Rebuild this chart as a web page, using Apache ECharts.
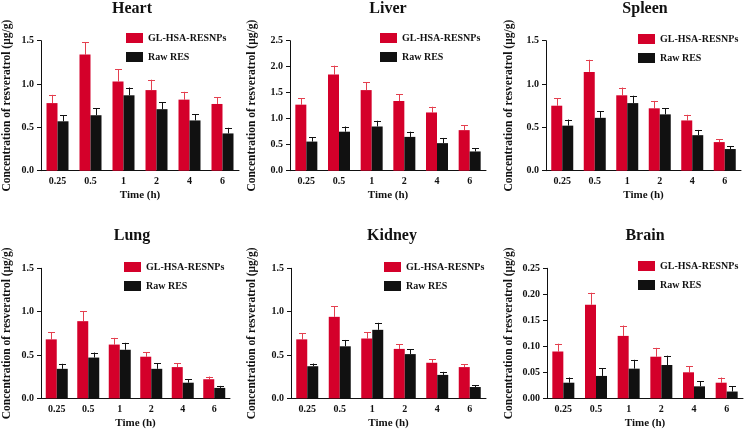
<!DOCTYPE html>
<html>
<head>
<meta charset="utf-8">
<script src="https://cdn.jsdelivr.net/npm/echarts@6/dist/echarts.min.js"></script>
<style>
html,body{margin:0;padding:0;background:#fff;}
#chart{width:745px;height:431px;}
</style>
</head>
<body>
<div id="chart"></div>
<script>
// ---- data ----
const categories = ['0.25', '0.5', '1', '2', '4', '6'];
const seriesNames = ['GL-HSA-RESNPs', 'Raw RES'];
const organs = ['Heart', 'Liver', 'Spleen', 'Lung', 'Kidney', 'Brain'];

const heartNP = [0.78, 1.34, 1.03, 0.93, 0.82, 0.77];
const heartNPErr = [0.095, 0.145, 0.14, 0.12, 0.09, 0.08];
const heartRaw = [0.57, 0.64, 0.87, 0.71, 0.58, 0.43];
const heartRawErr = [0.07, 0.08, 0.09, 0.08, 0.07, 0.065];

const liverNP = [1.27, 1.85, 1.55, 1.34, 1.12, 0.78];
const liverNPErr = [0.12, 0.17, 0.15, 0.13, 0.11, 0.09];
const liverRaw = [0.56, 0.75, 0.85, 0.65, 0.53, 0.37];
const liverRawErr = [0.08, 0.1, 0.11, 0.1, 0.1, 0.06];

const spleenNP = [0.75, 1.14, 0.87, 0.72, 0.58, 0.33];
const spleenNPErr = [0.085, 0.14, 0.09, 0.085, 0.065, 0.035];
const spleenRaw = [0.52, 0.61, 0.78, 0.65, 0.41, 0.25];
const spleenRawErr = [0.07, 0.077, 0.085, 0.07, 0.06, 0.035];

const lungNP = [0.68, 0.89, 0.62, 0.48, 0.36, 0.22];
const lungNPErr = [0.085, 0.115, 0.077, 0.054, 0.042, 0.031];
const lungRaw = [0.34, 0.47, 0.56, 0.34, 0.18, 0.12];
const lungRawErr = [0.058, 0.058, 0.08, 0.062, 0.042, 0.023];

const kidneyNP = [0.68, 0.94, 0.69, 0.57, 0.41, 0.36];
const kidneyNPErr = [0.073, 0.123, 0.073, 0.054, 0.04, 0.035];
const kidneyRaw = [0.37, 0.60, 0.79, 0.51, 0.27, 0.13];
const kidneyRawErr = [0.031, 0.073, 0.081, 0.054, 0.035, 0.023];

const brainNP = [0.09, 0.18, 0.12, 0.08, 0.05, 0.03];
const brainNPErr = [0.015, 0.023, 0.02, 0.017, 0.012, 0.01];
const brainRaw = [0.03, 0.043, 0.057, 0.064, 0.023, 0.013];
const brainRawErr = [0.01, 0.015, 0.017, 0.018, 0.01, 0.01];

const yMax = [1.5, 2.5, 1.5, 1.5, 1.5, 0.25];
const yStep = [0.5, 0.5, 0.5, 0.5, 0.5, 0.05];
const yDecimals = [1, 1, 1, 1, 1, 2];

const dataNP = [heartNP, liverNP, spleenNP, lungNP, kidneyNP, brainNP];
const dataNPErr = [heartNPErr, liverNPErr, spleenNPErr, lungNPErr, kidneyNPErr, brainNPErr];
const dataRaw = [heartRaw, liverRaw, spleenRaw, lungRaw, kidneyRaw, brainRaw];
const dataRawErr = [heartRawErr, liverRawErr, spleenRawErr, lungRawErr, kidneyRawErr, brainRawErr];

// ---- layout / style ----
const layout = [
  {left: 35,  top: 40.7,  width: 204, nameGap: 28, title: [132, 8.5],  legend: [126, 33]},
  {left: 290, top: 40.7,  width: 196, nameGap: 32, title: [388, 8.5],  legend: [380, 33]},
  {left: 546, top: 40.7,  width: 195, nameGap: 31, title: [645, 8.5],  legend: [638, 34]},
  {left: 35,  top: 268.3, width: 195, nameGap: 28, title: [132, 236], legend: [124, 262]},
  {left: 291, top: 268.3, width: 195, nameGap: 33, title: [392, 236], legend: [384, 262]},
  {left: 547, top: 268.3, width: 196, nameGap: 32, title: [645, 236], legend: [638, 261]}
];
const gridHeight = 130;
const RED = '#d4002a';
const RED_ERR = '#e4404f';
const BLACK = '#111111';
const FONT = '"Liberation Serif", "Times New Roman", serif';
const BAR_W = 11;

function errRender(offset, color) {
  return function (params, api) {
    const idx = api.value(0);
    const v = api.value(1);
    const e = api.value(2);
    const p0 = api.coord([idx, v]);
    const p1 = api.coord([idx, v + e]);
    const x = Math.round(p0[0] + offset) + 0.5;
    const half = 3.5;
    return {
      type: 'group',
      children: [
        {type: 'line', shape: {x1: x, y1: p0[1], x2: x, y2: p1[1]}, style: {stroke: color, lineWidth: 1}},
        {type: 'line', shape: {x1: x - half, y1: Math.round(p1[1]) + 0.5, x2: x + half, y2: Math.round(p1[1]) + 0.5}, style: {stroke: color, lineWidth: 1}}
      ]
    };
  };
}

const grid = [], xAxis = [], yAxis = [], series = [], legend = [], graphic = [];
organs.forEach(function (name, i) {
  const L = layout[i];
  grid.push({left: L.left, top: L.top, width: L.width, height: gridHeight, containLabel: false});
  xAxis.push({
    type: 'category', gridIndex: i, data: categories,
    name: 'Time (h)', nameLocation: 'middle', nameGap: 19,
    nameTextStyle: {fontFamily: FONT, fontWeight: 'bold', fontSize: 11, color: '#111'},
    axisLine: {lineStyle: {color: '#111', width: 1}},
    axisTick: {alignWithLabel: true, length: 3, lineStyle: {color: '#111'}},
    axisLabel: {fontFamily: FONT, fontWeight: 'bold', fontSize: 10, color: '#111', margin: 6}
  });
  yAxis.push({
    type: 'value', gridIndex: i, min: 0, max: yMax[i], interval: yStep[i],
    name: 'Concentration of resveratrol (μg/g)', nameLocation: 'middle', nameGap: L.nameGap,
    nameTextStyle: {fontFamily: FONT, fontWeight: 'bold', fontSize: 11.5, color: '#111'},
    axisLine: {show: true, lineStyle: {color: '#111', width: 1}},
    axisTick: {show: true, length: 4, lineStyle: {color: '#111'}},
    splitLine: {show: false},
    axisLabel: {fontFamily: FONT, fontWeight: 'bold', fontSize: 10, color: '#111', margin: 7,
      formatter: function (v) { return v.toFixed(yDecimals[i]); }}
  });
  series.push({
    type: 'bar', name: seriesNames[0], xAxisIndex: i, yAxisIndex: i,
    data: dataNP[i], barWidth: BAR_W, barGap: '0%', itemStyle: {color: RED}
  });
  series.push({
    type: 'bar', name: seriesNames[1], xAxisIndex: i, yAxisIndex: i,
    data: dataRaw[i], barWidth: BAR_W, barGap: '0%', itemStyle: {color: BLACK}
  });
  series.push({
    type: 'custom', name: 'errNP' + i, xAxisIndex: i, yAxisIndex: i,
    data: dataNP[i].map(function (v, k) { return [k, v, dataNPErr[i][k]]; }),
    renderItem: errRender(-BAR_W / 2, RED_ERR), z: 1
  });
  series.push({
    type: 'custom', name: 'errRaw' + i, xAxisIndex: i, yAxisIndex: i,
    data: dataRaw[i].map(function (v, k) { return [k, v, dataRawErr[i][k]]; }),
    renderItem: errRender(BAR_W / 2, BLACK), z: 1
  });
  legend.push({
    data: seriesNames, orient: 'vertical', left: L.legend[0], top: L.legend[1], padding: 0,
    itemWidth: 17, itemHeight: 10, itemGap: 9, icon: 'rect', selectedMode: false,
    textStyle: {fontFamily: FONT, fontWeight: 'bold', fontSize: 10, color: '#111'}
  });
  graphic.push({
    type: 'text', x: L.title[0], y: L.title[1],
    style: {text: name, fontFamily: FONT, fontWeight: 'bold', fontSize: 16, fill: '#111',
      textAlign: 'center', textVerticalAlign: 'middle'}
  });
});

const chart = echarts.init(document.getElementById('chart'), null, {renderer: 'canvas'});
chart.setOption({
  animation: false,
  backgroundColor: '#fff',
  grid: grid, xAxis: xAxis, yAxis: yAxis, series: series, legend: legend, graphic: graphic
});
</script>
</body>
</html>
